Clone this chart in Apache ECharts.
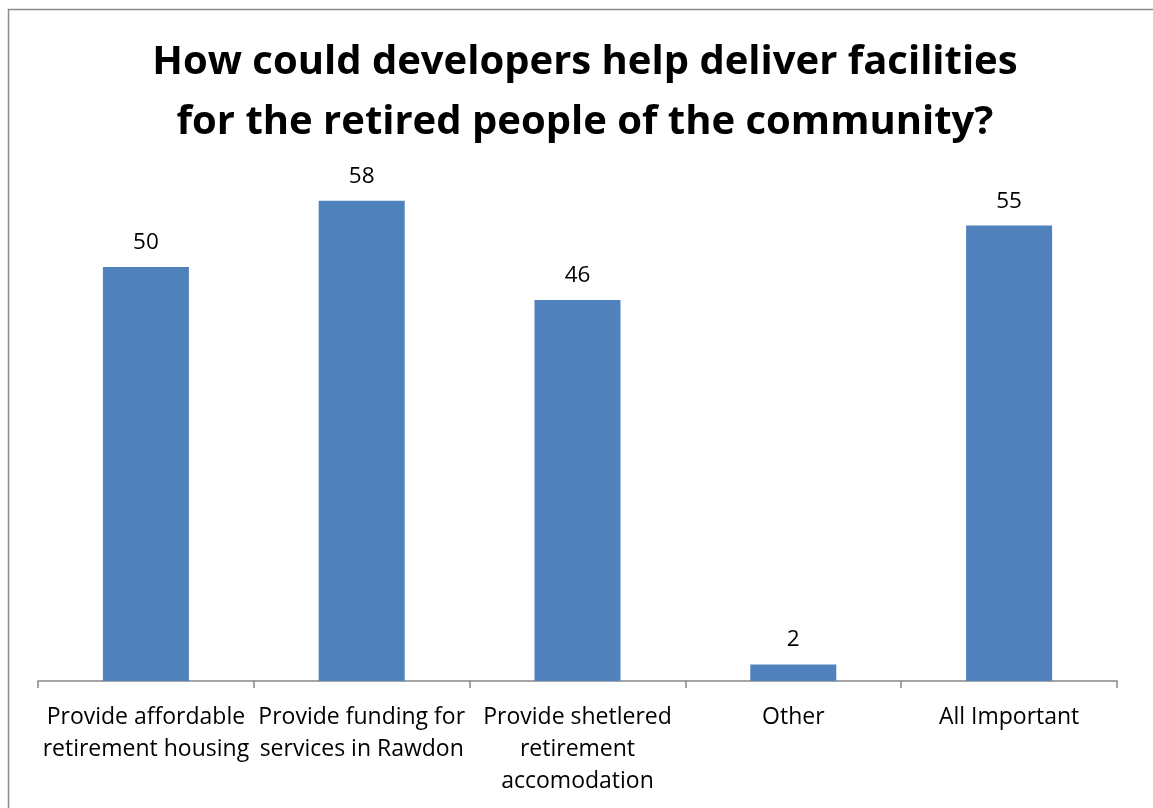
<!DOCTYPE html>
<html>
<head>
<meta charset="utf-8">
<script src="https://cdn.jsdelivr.net/npm/echarts@6/dist/echarts.min.js"></script>
<style>
  html, body { margin: 0; padding: 0; background: #ffffff; }
  #chart { width: 1153px; height: 808px; }
</style>
</head>
<body>
<div id="chart"></div>
<script>
// Survey answers: how developers could help deliver retirement facilities
const titleLines = [
  'How could developers help deliver facilities',
  'for the retired people of the community?'
];
const categories = [
  'Provide affordable\nretirement housing',
  'Provide funding for\nservices in Rawdon',
  'Provide shetlered\nretirement\naccomodation',
  'Other',
  'All Important'
];
const responses = [50, 58, 46, 2, 55];

const FONT = '"Open Sans", "Noto Sans", sans-serif';

const chart = echarts.init(document.getElementById('chart'), null, { renderer: 'canvas' });

chart.setOption({
  backgroundColor: '#ffffff',
  animation: false,
  graphic: [
    {
      type: 'rect',
      shape: { x: 8.5, y: 9.5, width: 1300, height: 1000 },
      style: { fill: 'none', stroke: '#8c8c8c', lineWidth: 1.5 },
      silent: true
    },
    {
      type: 'text',
      x: 585,
      y: 63,
      style: {
        text: titleLines[0],
        font: 'bold 40px ' + FONT,
        fill: '#000000',
        textAlign: 'center',
        textVerticalAlign: 'middle'
      }
    },
    {
      type: 'text',
      x: 585,
      y: 123,
      style: {
        text: titleLines[1],
        font: 'bold 40px ' + FONT,
        fill: '#000000',
        textAlign: 'center',
        textVerticalAlign: 'middle'
      }
    }
  ],
  grid: { left: 38, right: 36, top: 101.4, bottom: 127 },
  xAxis: {
    type: 'category',
    data: categories,
    axisLine: { lineStyle: { color: '#868686', width: 1.5 } },
    axisTick: { show: true, length: 7, lineStyle: { color: '#868686', width: 1.5 } },
    axisLabel: {
      interval: 0,
      margin: 20,
      color: '#000000',
      fontFamily: FONT,
      fontSize: 23,
      lineHeight: 32
    }
  },
  yAxis: {
    type: 'value',
    min: 0,
    max: 70,
    show: false
  },
  series: [
    {
      type: 'bar',
      data: responses,
      barWidth: 86,
      itemStyle: { color: '#4f81bd' },
      label: {
        show: true,
        position: 'top',
        distance: 13,
        color: '#000000',
        fontFamily: FONT,
        fontSize: 22.5
      }
    }
  ]
});
</script>
</body>
</html>
